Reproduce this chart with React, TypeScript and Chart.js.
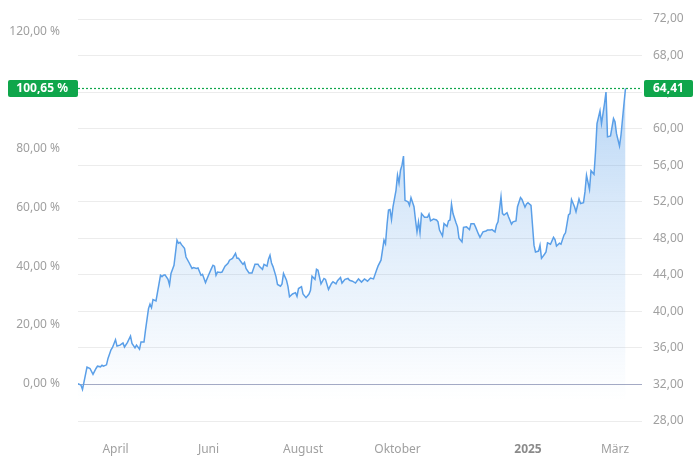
import React, { useEffect, useRef } from "react";
import { Chart, registerables } from "chart.js";

Chart.register(...registerables);

// Trading day offsets (days since 2024-03-07) and closing prices
const dayOffsets: number[] = [
  0, 2, 3, 6, 8, 10, 12, 13, 15, 16, 17, 19, 20, 22, 23, 25, 26, 28, 30, 31, 33, 35, 36, 38, 39, 41, 42, 44, 45, 47,
  48, 49, 50, 52, 55, 56, 57, 58, 60, 61, 62, 64, 66, 67, 68, 69, 71, 72, 74, 76, 77, 79, 80, 82, 83, 85, 87, 89, 90, 91,
  92, 93, 95, 96, 98, 100, 101, 103, 105, 106, 107, 109, 110, 111, 112, 114, 116, 118, 120, 121, 123, 124, 126, 127, 128, 129, 130, 132, 133, 135,
  136, 137, 139, 140, 141, 143, 145, 146, 147, 149, 150, 152, 154, 155, 156, 158, 159, 160, 162, 164, 165, 167, 169, 170, 172, 173, 175, 176, 178, 180,
  181, 183, 185, 187, 189, 191, 193, 195, 197, 199, 200, 202, 204, 205, 206, 207, 208, 209, 210, 212, 213, 214, 215, 216, 217, 218, 220, 221, 222, 224,
  225, 226, 227, 228, 229, 231, 233, 234, 235, 237, 239, 240, 241, 243, 244, 246, 247, 248, 249, 250, 252, 253, 254, 256, 257, 259, 261, 262, 264, 265,
  267, 268, 270, 272, 273, 275, 276, 278, 279, 280, 282, 283, 284, 286, 287, 289, 290, 292, 293, 295, 296, 298, 299, 300, 302, 304, 305, 307, 308, 309,
  311, 312, 313, 315, 317, 318, 319, 321, 322, 324, 325, 327, 328, 329, 331, 332, 334, 335, 337, 338, 339, 341, 342, 344, 345, 346, 348, 349, 351, 352,
  353, 355, 357, 358, 359, 361, 362, 364, 365,
];

const closePrices: number[] = [
  32.1, 31.92, 31.45, 33.9, 33.75, 33.1, 33.75, 34.0, 33.93, 34.1, 34.0, 34.15, 34.85, 35.8, 36.05, 36.9, 36.2, 36.3, 36.55, 36.1, 36.6, 37.3, 36.5, 36.0, 36.3, 35.85, 36.65, 36.65, 37.95, 40.3,
  40.8, 40.4, 41.3, 41.15, 43.95, 43.8, 43.95, 44.0, 43.5, 42.9, 44.15, 45.05, 47.8, 47.45, 47.55, 47.3, 46.9, 45.95, 45.35, 44.7, 44.8, 44.7, 44.75, 43.95, 44.05, 43.15, 43.95, 44.7, 45.05, 44.95,
  43.95, 44.3, 44.25, 44.3, 44.95, 45.25, 45.6, 45.8, 46.35, 45.8, 45.8, 45.35, 45.15, 45.35, 44.7, 44.2, 44.2, 45.15, 45.15, 44.9, 44.6, 45.15, 44.95, 45.7, 46.15, 45.3, 44.9, 43.8, 42.95, 42.75,
  43.0, 44.15, 43.4, 42.7, 41.6, 41.9, 42.05, 41.65, 42.5, 42.7, 41.9, 41.5, 41.9, 42.3, 43.85, 43.5, 44.6, 44.5, 43.0, 43.6, 43.5, 42.4, 43.05, 43.25, 43.0, 43.35, 43.7, 43.1, 43.5, 43.6,
  43.4, 43.3, 43.1, 43.55, 43.2, 43.55, 43.3, 43.65, 43.55, 44.5, 44.95, 45.6, 47.8, 47.4, 49.45, 51.1, 51.15, 50.05, 51.45, 53.25, 54.9, 54.05, 55.45, 56.0, 57.0, 52.15, 52.0, 51.6, 52.45, 51.45,
  50.0, 48.7, 49.8, 48.6, 50.7, 50.3, 50.3, 50.65, 49.9, 50.1, 50.0, 49.8, 48.9, 48.25, 49.6, 49.3, 49.9, 50.0, 51.75, 50.7, 49.7, 49.25, 48.0, 47.6, 49.2, 49.25, 48.95, 49.6, 49.6, 49.25,
  48.45, 48.1, 48.7, 48.8, 48.9, 48.9, 48.95, 48.7, 49.45, 49.8, 52.55, 50.7, 50.55, 50.8, 50.35, 49.55, 49.8, 49.9, 51.45, 52.45, 52.25, 51.4, 51.75, 51.9, 51.6, 47.25, 46.5, 46.6, 47.25, 45.8,
  46.25, 46.5, 47.5, 47.35, 48.1, 47.85, 47.15, 47.45, 47.35, 48.35, 48.6, 50.55, 50.7, 52.25, 51.45, 50.9, 52.3, 51.8, 51.9, 53.1, 54.9, 53.35, 55.4, 55.0, 57.45, 60.55, 61.95, 60.55, 62.75, 64.0,
  59.1, 59.2, 61.1, 60.75, 59.45, 58.1, 59.3, 62.75, 64.41,
];

// X-axis ticks (days since 2024-03-07) and their labels
const xTickDays: number[] = [25, 87, 150, 213, 300, 358];
const xTickLabels: string[] = ["April", "Juni", "August", "Oktober", "2025", "März"];

// Price axis ticks and percent axis ticks
const priceTicks: number[] = [28, 32, 36, 40, 44, 48, 52, 56, 60, 64, 68, 72];
const percentTicks: number[] = [0, 20, 40, 60, 80, 100, 120];

const basePrice = closePrices[0];
const FONT = "'Noto Sans', 'DejaVu Sans', sans-serif";
const GREEN = "#0fa64b";

const fmt = (v: number) => v.toFixed(2).replace(".", ",");

export default function App() {
  const ref = useRef<HTMLCanvasElement | null>(null);

  useEffect(() => {
    if (!ref.current) return;
    const pMin = priceTicks[0];
    const pMax = priceTicks[priceTicks.length - 1];
    const last = closePrices[closePrices.length - 1];
    const lastPct = (last / basePrice - 1) * 100;

    const zeroLine = {
      id: "zeroLine",
      beforeDatasetsDraw(chart: any) {
        const { ctx, chartArea } = chart;
        const y = chart.scales.yPct.getPixelForValue(0);
        ctx.save();
        ctx.strokeStyle = "#a4aac4";
        ctx.lineWidth = 1;
        ctx.beginPath();
        ctx.moveTo(chartArea.left, Math.round(y) + 0.5);
        ctx.lineTo(chartArea.right, Math.round(y) + 0.5);
        ctx.stroke();
        ctx.restore();
      },
    };

    const badges = {
      id: "badges",
      afterDatasetsDraw(chart: any) {
        const { ctx, chartArea } = chart;
        const y = Math.round(chart.scales.y.getPixelForValue(last)) + 0.5;
        ctx.save();
        ctx.strokeStyle = GREEN;
        ctx.lineWidth = 1.2;
        ctx.setLineDash([2, 2]);
        ctx.beginPath();
        ctx.moveTo(chartArea.left, y);
        ctx.lineTo(chartArea.right, y);
        ctx.stroke();
        ctx.setLineDash([]);
        const h = 17;
        ctx.fillStyle = GREEN;
        ctx.beginPath();
        (ctx as any).roundRect(8, y - h / 2, chartArea.left - 8, h, 2);
        ctx.fill();
        ctx.beginPath();
        (ctx as any).roundRect(chartArea.right + 2, y - h / 2, 49, h, 2);
        ctx.fill();
        ctx.fillStyle = "#ffffff";
        ctx.font = `bold 12px ${FONT}`;
        ctx.textBaseline = "middle";
        ctx.textAlign = "right";
        ctx.fillText(fmt(lastPct) + " %", chartArea.left - 10, y + 0.5);
        ctx.textAlign = "left";
        ctx.fillText(fmt(last), chartArea.right + 11, y + 0.5);
        ctx.restore();
      },
    };

    const chart = new Chart(ref.current, {
      type: "line",
      data: {
        datasets: [
          {
            data: dayOffsets.map((d, i) => ({ x: d, y: closePrices[i] })),
            yAxisID: "y",
            xAxisID: "x",
            borderColor: "#5a9fe8",
            borderWidth: 1.5,
            pointRadius: 0,
            tension: 0,
            fill: "start",
            backgroundColor: (c: any) => {
              const { ctx, chartArea } = c.chart;
              if (!chartArea) return "rgba(90,159,232,0.2)";
              const g = ctx.createLinearGradient(0, chartArea.top, 0, chartArea.bottom - 20);
              g.addColorStop(0, "rgba(90,159,232,0.55)");
              g.addColorStop(0.5, "rgba(90,159,232,0.22)");
              g.addColorStop(1, "rgba(90,159,232,0.0)");
              return g;
            },
          },
        ],
      },
      options: {
        animation: false,
        responsive: true,
        maintainAspectRatio: false,
        layout: { padding: { top: 19, left: 0, right: 0, bottom: 0 } },
        plugins: { legend: { display: false }, tooltip: { enabled: false } },
        scales: {
          x: {
            type: "linear",
            min: 0,
            max: 376,
            grid: { display: false },
            border: { display: false },
            afterBuildTicks: (s: any) => {
              s.ticks = xTickDays.map((v) => ({ value: v }));
            },
            afterFit: (s: any) => {
              s.height = 50;
            },
            ticks: {
              padding: 13,
              maxRotation: 0,
              autoSkip: false,
              callback: (_v: any, i: number) => xTickLabels[i],
              color: (c: any) => (xTickLabels[c.index] === "2025" ? "#8a8a8a" : "#a0a0a0"),
              font: (c: any) => ({
                family: FONT,
                size: 12,
                weight: xTickLabels[c.index] === "2025" ? "bold" : "normal",
              }),
            },
          },
          yPct: {
            type: "linear",
            position: "left",
            min: (pMin / basePrice - 1) * 100,
            max: (pMax / basePrice - 1) * 100,
            grid: { display: false },
            border: { display: false },
            afterBuildTicks: (s: any) => {
              s.ticks = percentTicks.map((v) => ({ value: v }));
            },
            afterFit: (s: any) => {
              s.width = 78;
            },
            ticks: {
              padding: 10,
              color: "#a0a0a0",
              font: { family: FONT, size: 12 },
              callback: (v: any) => fmt(Number(v)) + " %",
            },
          },
          y: {
            type: "linear",
            position: "right",
            min: pMin,
            max: pMax,
            grid: { color: "#ececec", lineWidth: 1, drawTicks: false },
            border: { display: false },
            afterBuildTicks: (s: any) => {
              s.ticks = priceTicks.map((v) => ({ value: v }));
            },
            afterFit: (s: any) => {
              s.width = 57;
            },
            ticks: {
              padding: 11,
              color: "#a0a0a0",
              font: { family: FONT, size: 12 },
              callback: (v: any) => fmt(Number(v)),
            },
          },
        },
      },
      plugins: [zeroLine, badges],
    } as any);

    return () => chart.destroy();
  }, []);

  return (
    <div style={{ position: "fixed", left: 0, top: 0, width: 699, height: 471, background: "#fff" }}>
      <canvas ref={ref} />
    </div>
  );
}
